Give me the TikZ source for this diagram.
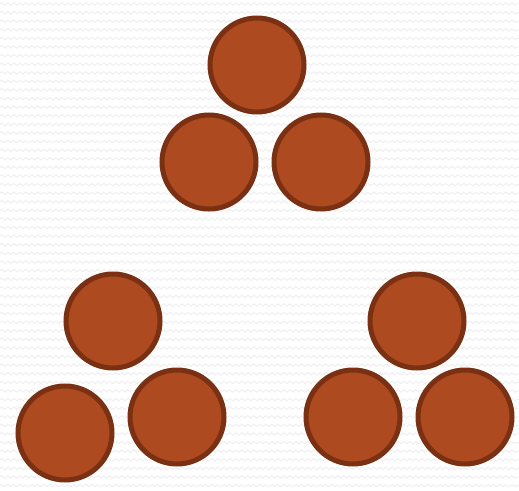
\documentclass[tikz,border=0pt]{standalone}
\usetikzlibrary{decorations.pathmorphing}
\definecolor{ballfill}{HTML}{AE4A1F}
\definecolor{ballline}{HTML}{7A3012}
\definecolor{wavecol}{HTML}{EEEEEE}
\tikzset{
  ball/.style={circle,draw=ballline,fill=ballfill,line width=5pt,minimum size=94pt,inner sep=0pt},
  wave/.style={draw=wavecol,line width=0.9pt,decorate,decoration={snake,segment length=6pt,amplitude=1.2pt}}
}
\begin{document}
\begin{tikzpicture}[x=1pt,y=1pt]
\useasboundingbox (0,0) rectangle (519,-490);
\fill[white] (0,0) rectangle (519,-490);
\foreach \r in {0,...,56}{
  \path[wave] (0,-4-\r*8.6) -- (519,-4-\r*8.6);
}
\node[ball] (t1) at (257,-65) {};
\node[ball] (t2) at (209,-162) {};
\node[ball] (t3) at (321,-162) {};
\node[ball] (l1) at (113,-321) {};
\node[ball] (l2) at (65,-433) {};
\node[ball] (l3) at (177,-417) {};
\node[ball] (r1) at (417,-321) {};
\node[ball] (r2) at (353,-417) {};
\node[ball] (r3) at (465,-417) {};
\end{tikzpicture}
\end{document}
